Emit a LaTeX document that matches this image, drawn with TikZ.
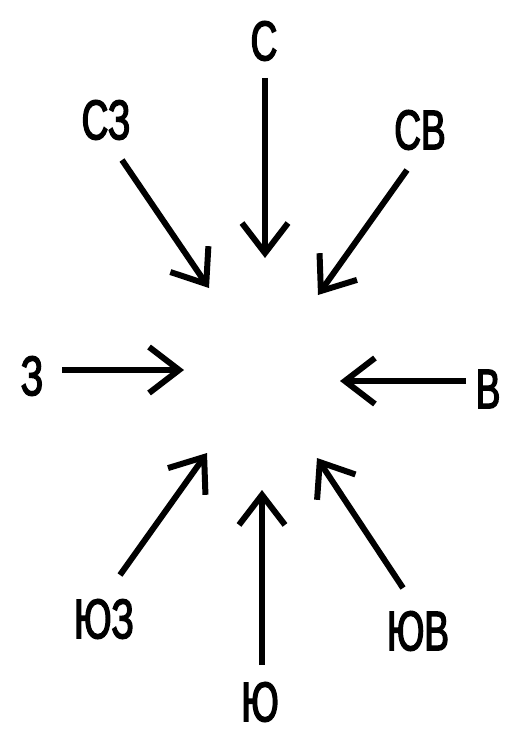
\documentclass[tikz,border=0pt]{standalone}
\usepackage{fontspec}
\setmainfont{Liberation Sans}[FakeStretch=0.66, FakeBold=2.5]
\usetikzlibrary{arrows.meta}
\tikzset{
  dir/.style={font=\fontsize{56}{60}\selectfont, inner sep=0pt},
  wind/.style={line width=6pt, -{Straight Barb[length=30pt,width=46pt]}}
}
\begin{document}
\begin{tikzpicture}[x=1pt, y=-1pt]
	\useasboundingbox (0,0) rectangle (505,733);
	
	\node[dir] (n) at (264,41) {С};
	\node[dir] (nw) at (106,120) {СЗ};
	\node[dir] (ne) at (420,130) {СВ};
	\node[dir] (w) at (32,376) {З};
	\node[dir] (e) at (488,389) {В};
	\node[dir] (sw) at (104,619) {ЮЗ};
	\node[dir] (s) at (260,702) {Ю};
	\node[dir] (se) at (418,631) {ЮВ};
	
	\coordinate (n1) at (265,78);   \coordinate (n2) at (265,258);
	\coordinate (nw1) at (122,160); \coordinate (nw2) at (209,288);
	\coordinate (ne1) at (407,170); \coordinate (ne2) at (318,295);
	\coordinate (w1) at (62,370);   \coordinate (w2) at (184,370);
	\coordinate (e1) at (466,381);  \coordinate (e2) at (340,381);
	\coordinate (sw1) at (120,575); \coordinate (sw2) at (207,453);
	\coordinate (s1) at (262,665);  \coordinate (s2) at (262,490);
	\coordinate (se1) at (403,588); \coordinate (se2) at (317,458);
	
	\draw[wind] (n1) -- (n2);
	\draw[wind] (nw1) -- (nw2);
	\draw[wind] (ne1) -- (ne2);
	\draw[wind] (w1) -- (w2);
	\draw[wind] (e1) -- (e2);
	\draw[wind] (sw1) -- (sw2);
	\draw[wind] (s1) -- (s2);
	\draw[wind] (se1) -- (se2);
\end{tikzpicture}
\end{document}
